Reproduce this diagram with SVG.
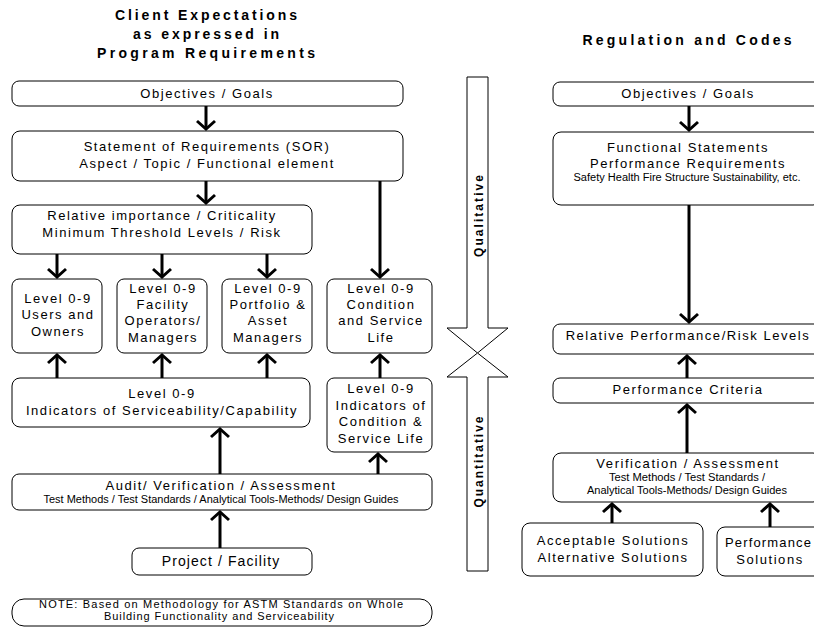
<svg xmlns="http://www.w3.org/2000/svg" width="814" height="628" viewBox="0 0 814 628">
<style>
text{font-family:"Liberation Sans",Arial,sans-serif;fill:#000;text-anchor:middle}
.t{font-size:13px;letter-spacing:1.55px}
.tb{font-size:14px;letter-spacing:1.1px}
.ti{font-size:14px;font-weight:bold}
.sm{font-size:10px}
.nt{font-size:11px}
.vt{font-size:12px;font-weight:bold}
.box{fill:#fff;stroke:#000;stroke-width:1}
.big{fill:#fff;stroke:#000;stroke-width:1}
.ar{stroke:#000;stroke-width:3;fill:none}
</style>
<defs>
<marker id="ah" markerUnits="userSpaceOnUse" markerWidth="20" markerHeight="20" refX="0" refY="0" orient="auto" style="overflow:visible">
<path d="M-8,-9 L0,0 L-8,9" fill="none" stroke="#000" stroke-width="3"/>
</marker>
</defs>
<rect width="814" height="628" fill="#fff"/>

<g id="titles">
<text class="ti" x="206" y="20" textLength="182" lengthAdjust="spacing">Client Expectations</text>
<text class="ti" x="206" y="39" textLength="146" lengthAdjust="spacing">as expressed in</text>
<text class="ti" x="206" y="58" textLength="218" lengthAdjust="spacing">Program Requirements</text>
<text class="ti" x="687" y="45" textLength="209" lengthAdjust="spacing">Regulation and Codes</text>
</g>

<g id="connectors">
<line class="ar" x1="206" y1="106" x2="206" y2="129" marker-end="url(#ah)"/>
<line class="ar" x1="206" y1="181" x2="206" y2="203" marker-end="url(#ah)"/>
<line class="ar" x1="380" y1="181" x2="380" y2="277" marker-end="url(#ah)"/>
<line class="ar" x1="57" y1="254" x2="57" y2="277" marker-end="url(#ah)"/>
<line class="ar" x1="162" y1="254" x2="162" y2="277" marker-end="url(#ah)"/>
<line class="ar" x1="267" y1="254" x2="267" y2="277" marker-end="url(#ah)"/>
<line class="ar" x1="57" y1="378" x2="57" y2="355" marker-end="url(#ah)"/>
<line class="ar" x1="162" y1="378" x2="162" y2="355" marker-end="url(#ah)"/>
<line class="ar" x1="267" y1="378" x2="267" y2="355" marker-end="url(#ah)"/>
<line class="ar" x1="380" y1="378" x2="380" y2="355" marker-end="url(#ah)"/>
<line class="ar" x1="220" y1="474" x2="220" y2="429" marker-end="url(#ah)"/>
<line class="ar" x1="378" y1="474" x2="378" y2="454" marker-end="url(#ah)"/>
<line class="ar" x1="220" y1="548" x2="220" y2="512" marker-end="url(#ah)"/>
<line class="ar" x1="689" y1="106" x2="689" y2="130" marker-end="url(#ah)"/>
<line class="ar" x1="689" y1="205" x2="689" y2="322" marker-end="url(#ah)"/>
<line class="ar" x1="687" y1="378" x2="687" y2="356" marker-end="url(#ah)"/>
<line class="ar" x1="687" y1="453" x2="687" y2="405" marker-end="url(#ah)"/>
<line class="ar" x1="612" y1="523" x2="612" y2="504" marker-end="url(#ah)"/>
<line class="ar" x1="770" y1="527" x2="770" y2="504" marker-end="url(#ah)"/>
</g>

<g id="qualitative">
<path class="big" d="M467,77 H488 V328 H508 L477.5,353 L447,328 H467 Z"/>
<text class="vt" transform="translate(483,216) rotate(-90)" textLength="82" lengthAdjust="spacing">Qualitative</text>
</g>
<g id="quantitative">
<path class="big" d="M467,571 V377 H447 L477.5,353 L508,377 H488 V571 Z"/>
<text class="vt" transform="translate(483,462) rotate(-90)" textLength="91" lengthAdjust="spacing">Quantitative</text>
</g>

<g id="objectives-left">
<rect class="box" x="12" y="81" width="391" height="25" rx="7"/>
<text class="t" x="207" y="98">Objectives / Goals</text>
</g>
<g id="sor">
<rect class="box" x="12" y="131" width="391" height="50" rx="8"/>
<text class="t" x="207" y="151">Statement of Requirements (SOR)</text>
<text class="t" x="207" y="168">Aspect / Topic / Functional element</text>
</g>
<g id="relative-importance">
<rect class="box" x="12" y="205" width="300" height="49" rx="8"/>
<text class="t" x="162" y="220">Relative importance / Criticality</text>
<text class="t" x="162" y="237">Minimum Threshold Levels / Risk</text>
</g>
<g id="users-owners">
<rect class="box" x="12" y="279" width="90" height="74" rx="7"/>
<text class="t" x="58" y="303">Level 0-9</text>
<text class="t" x="58" y="319">Users and</text>
<text class="t" x="58" y="336">Owners</text>
</g>
<g id="facility-operators">
<rect class="box" x="117" y="279" width="90" height="74" rx="7"/>
<text class="t" x="163" y="293">Level 0-9</text>
<text class="t" x="163" y="309">Facility</text>
<text class="t" x="163" y="325">Operators/</text>
<text class="t" x="163" y="342">Managers</text>
</g>
<g id="portfolio-asset">
<rect class="box" x="222" y="279" width="90" height="74" rx="7"/>
<text class="t" x="268" y="293">Level 0-9</text>
<text class="t" x="268" y="309">Portfolio &amp;</text>
<text class="t" x="268" y="325">Asset</text>
<text class="t" x="268" y="342">Managers</text>
</g>
<g id="condition-service-life">
<rect class="box" x="327" y="279" width="105" height="74" rx="7"/>
<text class="t" x="381" y="293">Level 0-9</text>
<text class="t" x="381" y="309">Condition</text>
<text class="t" x="381" y="325">and Service</text>
<text class="t" x="381" y="342">Life</text>
</g>
<g id="indicators-serviceability">
<rect class="box" x="12" y="378" width="298" height="49" rx="8"/>
<text class="t" x="162" y="398">Level 0-9</text>
<text class="t" x="162" y="415">Indicators of Serviceability/Capability</text>
</g>
<g id="indicators-condition">
<rect class="box" x="327" y="378" width="105" height="74" rx="7"/>
<text class="t" x="381" y="393">Level 0-9</text>
<text class="t" x="381" y="410">Indicators of</text>
<text class="t" x="381" y="426">Condition &amp;</text>
<text class="t" x="381" y="443">Service Life</text>
</g>
<g id="audit">
<rect class="box" x="12" y="474" width="420" height="36" rx="7"/>
<text class="t" x="221" y="490">Audit/ Verification / Assessment</text>
<text class="sm" x="221" y="503" textLength="355" lengthAdjust="spacingAndGlyphs">Test Methods / Test Standards / Analytical Tools-Methods/ Design Guides</text>
</g>
<g id="project-facility">
<rect class="box" x="132" y="548" width="180" height="27" rx="7"/>
<text class="tb" x="221" y="566">Project / Facility</text>
</g>
<g id="note">
<rect class="box" x="12" y="599" width="420" height="27" rx="12"/>
<text class="nt" x="221" y="608" textLength="364" lengthAdjust="spacing">NOTE: Based on Methodology for ASTM Standards on Whole</text>
<text class="nt" x="219" y="620" textLength="230" lengthAdjust="spacing">Building Functionality and Serviceability</text>
</g>

<g id="objectives-right">
<rect class="box" x="553" y="82" width="268" height="24" rx="7"/>
<text class="t" x="688" y="98">Objectives / Goals</text>
</g>
<g id="functional-statements">
<rect class="box" x="553" y="132" width="268" height="73" rx="8"/>
<text class="t" x="688" y="152">Functional Statements</text>
<text class="t" x="688" y="168">Performance Requirements</text>
<text class="sm" x="687" y="181" textLength="227" lengthAdjust="spacingAndGlyphs">Safety  Health Fire Structure Sustainability, etc.</text>
</g>
<g id="relative-performance">
<rect class="box" x="553" y="324" width="268" height="30" rx="7"/>
<text class="t" x="688" y="340">Relative Performance/Risk Levels</text>
</g>
<g id="performance-criteria">
<rect class="box" x="553" y="378" width="268" height="25" rx="7"/>
<text class="t" x="688" y="394">Performance Criteria</text>
</g>
<g id="verification">
<rect class="box" x="553" y="453" width="268" height="49" rx="8"/>
<text class="t" x="688" y="468">Verification / Assessment</text>
<text class="sm" x="687" y="481" textLength="156" lengthAdjust="spacingAndGlyphs">Test Methods / Test Standards /</text>
<text class="sm" x="687" y="494" textLength="200" lengthAdjust="spacingAndGlyphs">Analytical Tools-Methods/ Design Guides</text>
</g>
<g id="acceptable-solutions">
<rect class="box" x="522" y="523" width="181" height="53" rx="8"/>
<text class="t" x="613" y="545">Acceptable Solutions</text>
<text class="t" x="613" y="562">Alternative Solutions</text>
</g>
<g id="performance-solutions">
<rect class="box" x="717" y="527" width="106" height="49" rx="8"/>
<text x="768" y="547" font-size="13" textLength="86" lengthAdjust="spacing">Performance</text>
<text class="t" x="770" y="564">Solutions</text>
</g>
</svg>
